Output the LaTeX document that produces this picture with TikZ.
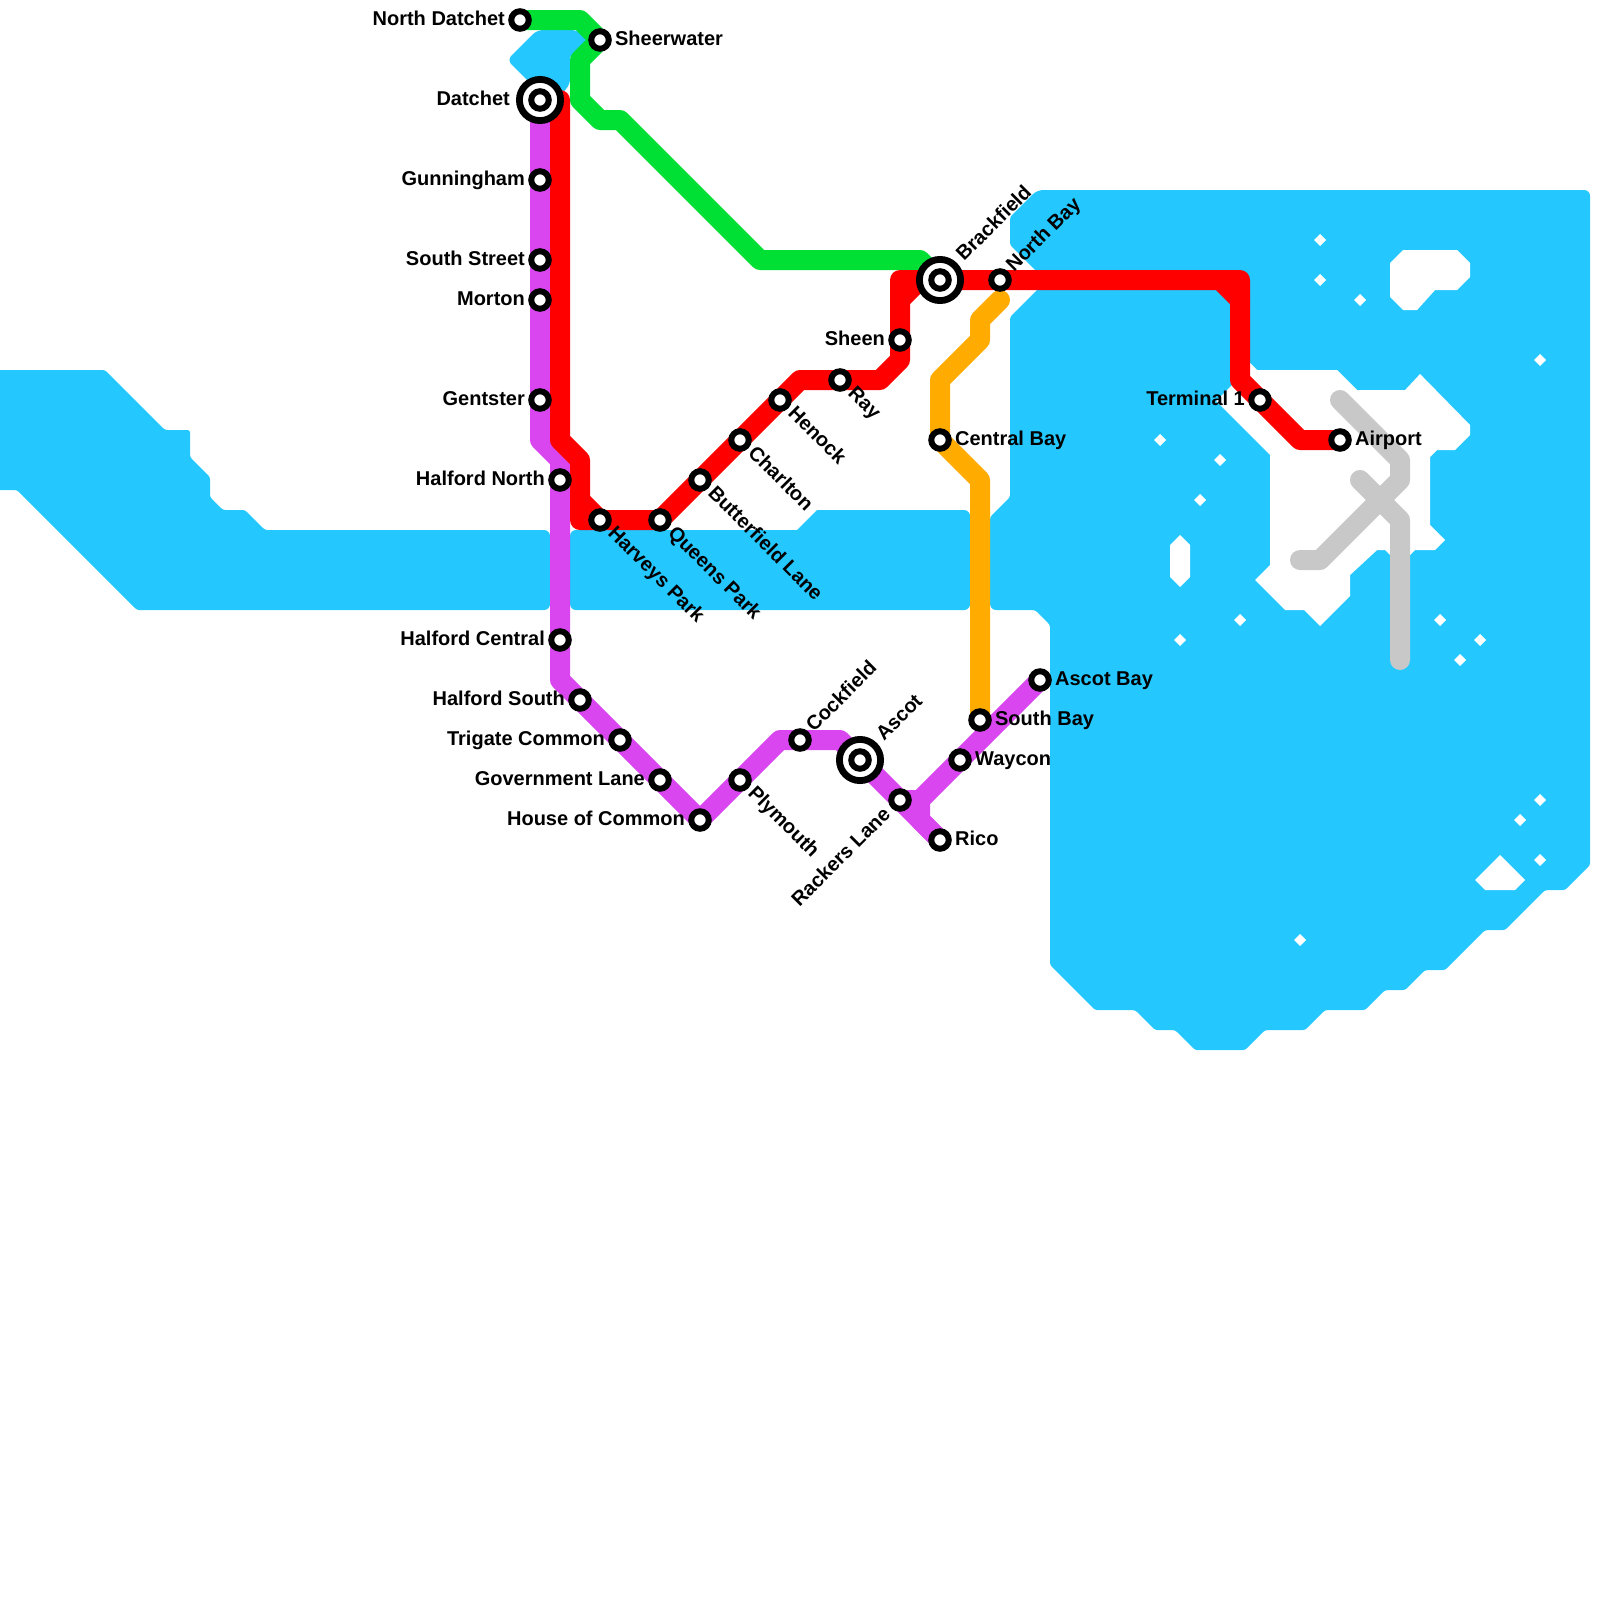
\documentclass[tikz,border=0pt]{standalone}
\usepackage{fontspec}
\setmainfont{Liberation Sans}
\usetikzlibrary{backgrounds}
\definecolor{waterblue}{HTML}{24C8FF}
\definecolor{linered}{HTML}{FF0000}
\definecolor{linepurple}{HTML}{D946EF}
\definecolor{linegreen}{HTML}{00E034}
\definecolor{lineorange}{HTML}{FFAB00}
\definecolor{linegrey}{HTML}{C8C8C8}

\begin{document}
\begin{tikzpicture}[
    x=1cm, y=-1cm,
    water/.style={fill=waterblue, rounded corners=0.12cm},
    land/.style={fill=white},
    metro/.style={line width=1cm, line join=round, line cap=round},
    station/.style={circle, draw=black, fill=white, line width=0.3cm, minimum size=0.875cm, inner sep=0pt},
    interchange/.style={circle, draw=black, fill=white, line width=0.34cm, minimum size=2.06cm, inner sep=0pt},
    stationname/.style={font=\fontsize{28.45pt}{30pt}\selectfont\bfseries, inner sep=0pt},
    nameleft/.style={stationname, anchor=base east, xshift=-0.75cm, yshift=-0.25cm},
    nameright/.style={stationname, anchor=base west, xshift=0.75cm, yshift=-0.25cm},
    namedown/.style={stationname, anchor=base west, xshift=0.35cm, yshift=-0.7cm, rotate=-45},
    nameup/.style={stationname, anchor=base west, xshift=0.7cm, yshift=0.35cm, rotate=45},
    nameupfar/.style={stationname, anchor=base west, xshift=1.2cm, yshift=0.9cm, rotate=45},
    nameleftup/.style={stationname, anchor=base east, xshift=-0.42cm, yshift=-0.77cm, rotate=45}
]
\useasboundingbox (0,0) rectangle (80,80);
% stations
\node[station] (northdatchet) at (26,1) {};
\node[station] (sheerwater) at (30,2) {};
\node[interchange] (datchet) at (27,5) {};
\node[station] (datchetin) at (27,5) {};
\node[station] (gunningham) at (27,9) {};
\node[station] (southstreet) at (27,13) {};
\node[station] (morton) at (27,15) {};
\node[station] (gentster) at (27,20) {};
\node[station] (halfordnorth) at (28,24) {};
\node[station] (halfordcentral) at (28,32) {};
\node[station] (halfordsouth) at (29,35) {};
\node[station] (trigate) at (31,37) {};
\node[station] (government) at (33,39) {};
\node[station] (houseofcommon) at (35,41) {};
\node[station] (plymouth) at (37,39) {};
\node[station] (cockfield) at (40,37) {};
\node[interchange] (ascot) at (43,38) {};
\node[station] (ascotin) at (43,38) {};
\node[station] (rackers) at (45,40) {};
\node[station] (rico) at (47,42) {};
\node[station] (waycon) at (48,38) {};
\node[station] (southbay) at (49,36) {};
\node[station] (ascotbay) at (52,34) {};
\node[station] (harveys) at (30,26) {};
\node[station] (queens) at (33,26) {};
\node[station] (butterfield) at (35,24) {};
\node[station] (charlton) at (37,22) {};
\node[station] (henock) at (39,20) {};
\node[station] (ray) at (42,19) {};
\node[station] (sheen) at (45,17) {};
\node[interchange] (brackfield) at (47,14) {};
\node[station] (brackfieldin) at (47,14) {};
\node[station] (northbay) at (50,14) {};
\node[station] (centralbay) at (47,22) {};
\node[station] (terminal) at (63,20) {};
\node[station] (airport) at (67,22) {};
\coordinate (redstart) at (28,5);
\coordinate (orangestart) at (50,15);
\coordinate (greyone) at (67,20);
\coordinate (greytwo) at (65,28);
\coordinate (greythree) at (68,24);
\coordinate (greyend) at (70,33);
% water and land
\begin{scope}[on background layer, x=0.05cm, y=-0.05cm]
\fill[water] (-5,370) -- (105,370) -- (165,430) -- (190,430) -- (190,457) -- (210,477) -- (210,497)
    -- (223,510) -- (245,510) -- (265,530) [rounded corners=0.3cm] -- (550,530) -- (550,610) [rounded corners=0.12cm] -- (137,610) -- (17,490) -- (-5,490) -- cycle;
\fill[water, rounded corners=0.3cm] (570,530) [sharp corners] -- (797,530) -- (817,510) [rounded corners=0.3cm] -- (970,510) -- (970,610) -- (570,610) -- cycle;
\fill[water, rounded corners=0.3cm] (507,60) -- (537,30) -- (577,30) -- (590,40) [sharp corners] -- (570,57) [rounded corners=0.3cm] -- (570,85) -- (555,100) -- (547,100) -- cycle;
\fill[water] (1037,190) -- (1010,217) -- (1010,245) -- (1040,275) -- (1040,287) -- (1010,317) -- (1010,497)
    -- (990,517) [rounded corners=0.3cm] -- (990,610) [rounded corners=0.12cm] -- (1035,610) -- (1050,625) -- (1050,965) -- (1095,1010) -- (1135,1010) -- (1155,1030)
    -- (1175,1030) -- (1195,1050) -- (1245,1050) -- (1265,1030) -- (1305,1030) -- (1325,1010) -- (1365,1010)
    -- (1385,990) -- (1405,990) -- (1425,970) -- (1445,970) -- (1485,930) -- (1505,930) -- (1545,890) -- (1565,890)
    -- (1590,865) [rounded corners=0.3cm] -- (1590,190) -- cycle;
\fill[land] (1250,363) -- (1257,370) -- (1337,370) -- (1357,390) -- (1405,390) -- (1420,374) -- (1470,425) -- (1470,435)
    -- (1455,450) -- (1437,450) -- (1430,457) -- (1430,525) -- (1445,540) -- (1435,550) -- (1415,550) -- (1410,555)
    -- (1390,555) -- (1385,550) -- (1377,550) -- (1350,575) -- (1350,596) -- (1320,626) -- (1304,610) -- (1285,610)
    -- (1255,580) -- (1270,565) -- (1270,455) -- (1216,401) -- (1232,385) -- cycle;
\fill[land] (1390,263) -- (1403,250) -- (1457,250) -- (1470,263) -- (1470,277) -- (1457,290) -- (1435,290)
    -- (1417,310) -- (1403,310) -- (1390,297) -- cycle;
\fill[land] (1170,545) -- (1180,535) -- (1190,545) -- (1190,577) -- (1180,587) -- (1170,577) -- cycle;
\fill[land] (1500,855) -- (1525,880) -- (1515,890) -- (1485,890) -- (1475,880) -- cycle;
\foreach \px/\py in {1320/240, 1320/280, 1360/300, 1540/360, 1160/440, 1220/460, 1200/500, 1240/620,
                     1180/640, 1440/620, 1460/660, 1480/640, 1540/800, 1520/820, 1540/860, 1300/940}
    \fill[land] (\px-6,\py) -- (\px,\py-6) -- (\px+6,\py) -- (\px,\py+6) -- cycle;
\end{scope}
% lines
\begin{scope}[on background layer]
\draw[metro, linegrey] (greyone) -- (70,23) -- (70,24) -- (66,28) -- (greytwo);
\draw[metro, linegrey] (greythree) -- (70,26) -- (greyend);
\draw[metro, linegreen] (northdatchet.center) -- (29,1) -- (sheerwater.center) -- (29,3) -- (29,5) -- (30,6) -- (31,6)
    -- (38,13) -- (46,13) -- (brackfield.center);
\draw[metro, lineorange] (orangestart) -- (49,16) -- (49,17) -- (47,19) -- (centralbay.center) -- (49,24) -- (southbay.center);
\draw[metro, linepurple] (datchet.center) -- (gunningham.center) -- (southstreet.center) -- (morton.center)
    -- (gentster.center) -- (27,22) -- (28,23) -- (halfordnorth.center) -- (halfordcentral.center) -- (28,34)
    -- (halfordsouth.center) -- (trigate.center) -- (government.center) -- (houseofcommon.center)
    -- (plymouth.center) -- (39,37) -- (cockfield.center) -- (42,37) -- (ascot.center) -- (rackers.center) -- (rico.center);
\draw[metro, linepurple] (rackers.center) -- (46,40) -- (waycon.center) -- (ascotbay.center);
\draw[metro, linepurple] (46,40) -- (46,41) -- (rico.center);
\draw[metro, linered] (redstart) -- (28,22) -- (29,23) -- (29,26) -- (harveys.center) -- (queens.center)
    -- (butterfield.center) -- (charlton.center) -- (henock.center) -- (40,19) -- (ray.center) -- (44,19)
    -- (45,18) -- (sheen.center) -- (45,14) -- (brackfield.center) -- (northbay.center) -- (62,14) -- (62,19)
    -- (terminal.center) -- (65,22) -- (airport.center);
\draw[metro, linered] (29,25) -- (harveys.center);
\draw[metro, linered] (45,15) -- (46,14);
\draw[metro, linered] (61,14) -- (62,15);
\end{scope}
% names
\node[nameleft] (lblnorthdatchet) at (northdatchet) {North Datchet};
\node[nameright] (lblsheerwater) at (sheerwater) {Sheerwater};
\node[nameleft, xshift=-0.75cm] (lbldatchet) at (datchet) {Datchet};
\node[nameleft] (lblgunningham) at (gunningham) {Gunningham};
\node[nameleft] (lblsouthstreet) at (southstreet) {South Street};
\node[nameleft] (lblmorton) at (morton) {Morton};
\node[nameleft] (lblgentster) at (gentster) {Gentster};
\node[nameleft] (lblhalfordnorth) at (halfordnorth) {Halford North};
\node[nameleft] (lblhalfordcentral) at (halfordcentral) {Halford Central};
\node[nameleft] (lblhalfordsouth) at (halfordsouth) {Halford South};
\node[nameleft] (lbltrigate) at (trigate) {Trigate Common};
\node[nameleft] (lblgovernment) at (government) {Government Lane};
\node[nameleft] (lblhouseofcommon) at (houseofcommon) {House of Common};
\node[namedown] (lblplymouth) at (plymouth) {Plymouth};
\node[nameup] (lblcockfield) at (cockfield) {Cockfield};
\node[nameupfar] (lblascot) at (ascot) {Ascot};
\node[nameleftup] (lblrackers) at (rackers) {Rackers Lane};
\node[nameright] (lblrico) at (rico) {Rico};
\node[nameright] (lblwaycon) at (waycon) {Waycon};
\node[nameright] (lblsouthbay) at (southbay) {South Bay};
\node[nameright] (lblascotbay) at (ascotbay) {Ascot Bay};
\node[namedown] (lblharveys) at (harveys) {Harveys Park};
\node[namedown] (lblqueens) at (queens) {Queens Park};
\node[namedown] (lblbutterfield) at (butterfield) {Butterfield Lane};
\node[namedown] (lblcharlton) at (charlton) {Charlton};
\node[namedown] (lblhenock) at (henock) {Henock};
\node[namedown] (lblray) at (ray) {Ray};
\node[nameleft] (lblsheen) at (sheen) {Sheen};
\node[nameupfar] (lblbrackfield) at (brackfield) {Brackfield};
\node[nameup] (lblnorthbay) at (northbay) {North Bay};
\node[nameright] (lblcentralbay) at (centralbay) {Central Bay};
\node[nameleft] (lblterminal) at (terminal) {Terminal 1};
\node[nameright] (lblairport) at (airport) {Airport};
\end{tikzpicture}
\end{document}
